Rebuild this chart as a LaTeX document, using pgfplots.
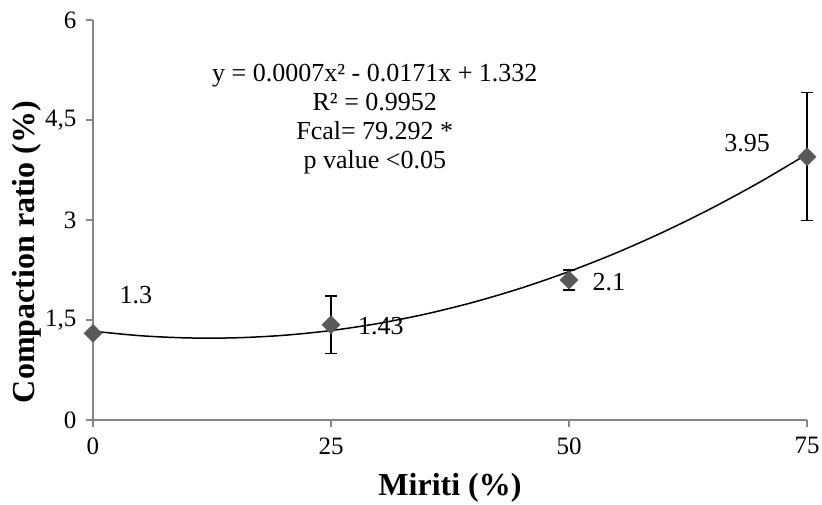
\documentclass[border=0pt]{standalone}
\usepackage{pgfplots}
\pgfplotsset{compat=1.18}
\usepackage{fontspec}
\setmainfont{Liberation Serif}
\definecolor{axgray}{HTML}{868686}
\definecolor{mk}{HTML}{595959}
\begin{document}
\begin{tikzpicture}[x=1pt,y=1pt]
\path[use as bounding box] (0,0) rectangle (822,504);
\begin{axis}[
  at={(93pt,84pt)}, anchor=south west,
  scale only axis, width=714pt, height=400pt,
  xmin=0, xmax=75, ymin=0, ymax=6,
  clip=false,
  axis x line*=bottom, axis y line*=left,
  axis line style={axgray, line width=1.5pt},
  xtick={0,25,50,75}, ytick={0,1.5,3,4.5,6},
  yticklabels={0,{1,5},3,{4,5},6},
  xticklabels={0,25,50,75},
  tick align=outside, major tick length=7pt,
  tick style={axgray, line width=1.5pt},
  every tick label/.append style={font=\fontsize{25}{29}\selectfont, text=black},
  yticklabel style={xshift=-6pt},
  xticklabel style={yshift=-7pt},
  xlabel={Miriti (\%)},
  ylabel={Compaction ratio (\%)},
  xlabel style={font=\fontsize{32}{36}\selectfont\bfseries, at={(axis description cs:0.5,-0.17)}, anchor=center},
  ylabel style={font=\fontsize{32}{36}\selectfont\bfseries, at={(axis description cs:-0.0924,0.42)}, anchor=center, rotate=0},
]
% observed means with error bars
\addplot[only marks, mark=square*, mark size=6.4pt,
  mark options={rotate=45, fill=mk, draw=mk},
  error bars/.cd, y dir=both, y explicit,
  error bar style={black, line width=1.5pt},
  error mark options={rotate=90, black, line width=1.5pt, mark size=6pt}]
  coordinates {
  (0,1.30) +- (0,0)
  (25,1.43) +- (0,0.43)
  (50,2.10) +- (0,0.15)
  (75,3.95) +- (0,0.96)
};
% polynomial trendline (values of the fitted curve)
\addplot[black, line width=1.5pt, smooth] coordinates {
  (0,1.332) (5,1.264) (10,1.231) (15,1.233) (20,1.270) (25,1.342)
  (30,1.449) (35,1.591) (40,1.768) (45,1.980) (50,2.227) (55,2.509)
  (60,2.826) (65,3.178) (70,3.565) (75,3.987)
};
\node[font=\fontsize{26}{30}\selectfont] at (axis cs:4.5,1.875) {1.3};
\node[font=\fontsize{26}{30}\selectfont] at (axis cs:30.25,1.41) {1.43};
\node[font=\fontsize{26}{30}\selectfont] at (axis cs:54.2,2.07) {2.1};
\node[font=\fontsize{26}{30}\selectfont] at (axis cs:68.7,4.155) {3.95};
\node[font=\fontsize{26}{29}\selectfont, align=center] at (axis cs:29.6,4.52)
  {y = 0.0007x² - 0.0171x + 1.332\\R² = 0.9952\\Fcal= 79.292 *\\p value <0.05};
\end{axis}
\end{tikzpicture}
\end{document}
